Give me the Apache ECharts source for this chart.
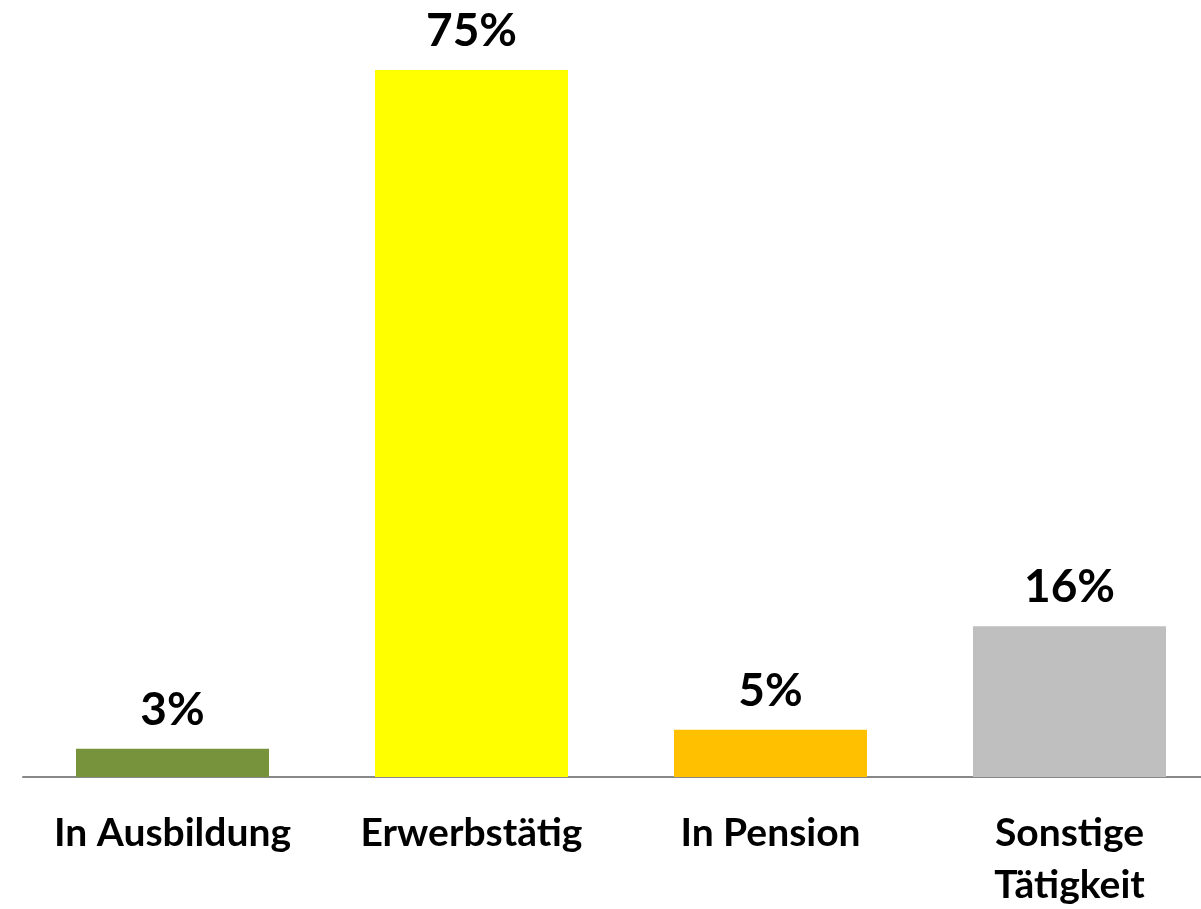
<!DOCTYPE html>
<html>
<head>
<meta charset="utf-8">
<script src="https://cdn.jsdelivr.net/npm/echarts@6/dist/echarts.min.js"></script>
<style>
  html, body { margin: 0; padding: 0; background: #fff; }
  #chart { width: 1201px; height: 909px; }
</style>
</head>
<body>
<div id="chart"></div>
<script>
    // Kategorien und Werte (Prozent)
    var categories = ['In Ausbildung', 'Erwerbstätig', 'In Pension', 'Sonstige\nTätigkeit'];
    var values = [3, 75, 5, 16];
    var colors = ['#77933c', '#ffff00', '#ffc000', '#bfbfbf'];

    var myChart = echarts.init(document.getElementById('chart'));

    var option = {
        animation: false,
        grid: {
            left: 23,
            top: 70,
            right: -18,
            bottom: 132,
            outerBoundsMode: 'none',
            containLabel: false
        },
        xAxis: {
            type: 'category',
            data: categories,
            axisLine: { lineStyle: { color: '#888888', width: 2 } },
            axisTick: { show: false },
            axisLabel: {
                interval: 0,
                margin: 30,
                color: '#000',
                fontFamily: 'Lato',
                fontWeight: 'bold',
                fontSize: 39,
                lineHeight: 52
            }
        },
        yAxis: {
            type: 'value',
            min: 0,
            max: 75,
            show: false,
            splitLine: { show: false }
        },
        series: [{
            type: 'bar',
            barWidth: 193,
            data: values.map(function (v, i) {
                return { value: v, itemStyle: { color: colors[i] } };
            }),
            label: {
                show: true,
                position: 'top',
                distance: 16,
                formatter: '{c}%',
                color: '#000',
                fontFamily: 'Lato',
                fontWeight: 'bold',
                fontSize: 46
            }
        }]
    };

    myChart.setOption(option);
</script>
</body>
</html>
